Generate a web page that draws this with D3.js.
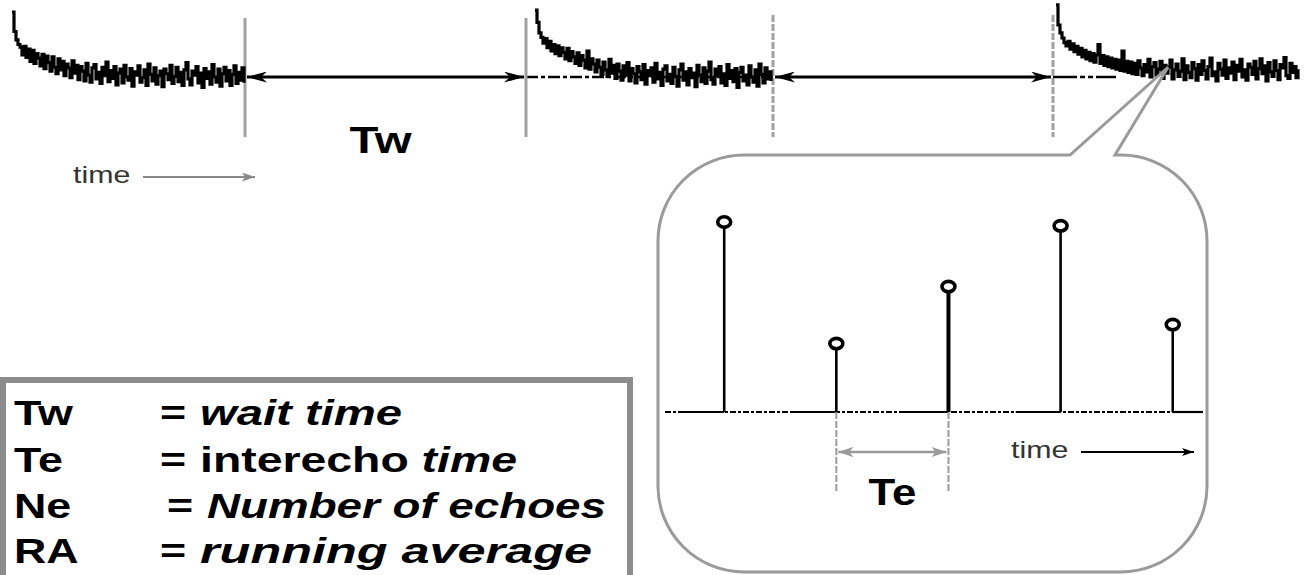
<!DOCTYPE html>
<html>
<head>
<meta charset="utf-8">
<script src="https://cdn.jsdelivr.net/npm/d3@7"></script>
<style>
  html, body { margin: 0; padding: 0; background: #fff; }
  svg { display: block; }
  text { font-family: "Liberation Sans", Arial, Helvetica, sans-serif; }
</style>
</head>
<body>
<svg id="chart" width="1310" height="575"></svg>
<script>
// ---- Echo trains: amplitude in % of first echo, one sample every 2 time units ----
const trainStarts = [2, 525, 1046];
const sampleStep = 2;

const train1 = [100, 70, 57, 50, 46, 34, 47, 30, 43, 24,
  41, 21, 36, 29, 17, 35, 13, 32, 22, 9,
  31, 15, 5, 28, 11, 24, 2, 20, 14, -1,
  25, 6, 18, -4, 16, 9, -6, 21, 3, -8,
  14, 19, -3, 7, -10, 15, 2, 23, -7, 10,
  -2, 16, -12, 6, 12, -9, 18, 0, -5, 13,
  -14, 8, 3, 17, -8, -1, 11, -13, 20, 4,
  -6, 14, -11, 2, 9, -15, 12, 5, -4, 18,
  -10, 1, 15, -7, 7, -13, 11, 22, -3, -12,
  9, 3, 16, -9, 6, -16, 13, -2, 8, -11,
  19, 0, -8, 12, -14, 5, 15, -6, 10, -13,
  4, 17, -10, 7, -5, 14, -9];

const train2 = [103, 84, 68, 61, 52, 59, 45, 55, 40, 50,
  36, 48, 33, 45, 38, 28, 44, 25, 39, 31,
  21, 37, 18, 33, 26, 14, 40, 12, 28, 20,
  8, 26, 15, 4, 23, 11, 1, 27, 6, 18,
  -2, 20, 9, -5, 17, 3, 22, -6, 13, 5,
  -9, 16, 8, -4, 19, -11, 10, 2, 14, -8,
  21, -3, 7, -13, 12, 17, -6, 4, -10, 15,
  1, -14, 11, 20, -5, 8, -12, 13, -1, 6,
  -15, 18, 3, -7, 14, -10, 9, 23, -4, -11,
  12, 2, 16, -9, 5, -13, 19, -2, 10, -7,
  13, -16, 7, 15, -6, 3, -12, 17, 0, -8,
  11, -14, 20, 4, -9, 14, -3, 8, -6];

const train3 = [111, 80, 68, 60, 53, 48, 55, 43, 51, 39,
  47, 35, 44, 31, 41, 28, 38, 25, 36, 23,
  34, 50, 21, 33, 18, 31, 16, 29, 14, 27,
  12, 26, 10, 40, 9, 24, 7, 23, 5, 21,
  4, 25, 14, 2, 19, 8, 27, 0, 16, 22,
  3, 12, 24, -2, 18, 6, 15, 26, -3, 11,
  20, 1, 9, 28, -4, 17, 7, -1, 22, 13,
  -5, 19, 4, 25, 10, -3, 16, 29, 2, 8,
  -6, 21, 12, 3, 26, -2, 14, 6, 23, -4,
  18, 9, 27, 0, 11, -5, 20, 15, 4, 24,
  -3, 13, 28, 5, 17, -6, 22, 8, 1, 25,
  10, -4, 19, 14, 30, 2, -2, 21, 7, 16,
  -1, 12];

const trains = [train1, train2, train3];

// gate markers (end / start of each train) and the wait-time spans between trains
const gateTimes = [235, 516, 763, 1043];
const waitSpans = [[235, 516], [763, 1043]];
const waitLabel = "Tw";

// sample of train 3 that the magnified view points at
const calloutSample = 56;
const calloutLevel = 15;

// ---- Magnified view: individual echoes ----
const echoNumbers = [1, 2, 3, 4, 5];
const echoAmplitudes = [1.00, 0.36, 0.66, 0.98, 0.46];
const interechoPair = [2, 3];
const interechoLabel = "Te";

// ---- Legend ----
const legendTerms = ["Tw", "Te", "Ne", "RA"];
const legendDefs = [
  [{ text: "wait time", italic: true }],
  [{ text: "interecho ", italic: false }, { text: "time", italic: true }],
  [{ text: "Number of echoes", italic: true }],
  [{ text: "running average", italic: true }]
];

// ---------------------------------------------------------------
const svg = d3.select("#chart");
const SX = 1.28;   // horizontal stretch of the lettering

svg.append("rect").attr("width", 1310).attr("height", 575).attr("fill", "#fff");

const xTop = d3.scaleLinear().domain([0, 1300]).range([10, 1310]);
const yTop = d3.scaleLinear().domain([0, 100]).range([77, 12]);

const xEcho = d3.scaleLinear().domain([0.472, 5.27]).range([665, 1203]);
const yEcho = d3.scaleLinear().domain([0, 1]).range([412, 222]);

// arrowhead markers
const defs = svg.append("defs");
function marker(id, len, half, notch, color) {
  defs.append("marker")
    .attr("id", id)
    .attr("viewBox", `${-len} ${-half} ${len} ${half * 2}`)
    .attr("refX", 0).attr("refY", 0)
    .attr("markerUnits", "userSpaceOnUse")
    .attr("markerWidth", len).attr("markerHeight", half * 2)
    .attr("orient", "auto-start-reverse")
    .append("path")
    .attr("d", `M0,0 L${-len},${-half} L${-notch},0 L${-len},${half} Z`)
    .attr("fill", color);
}
marker("barbBlack", 20, 5.5, 14, "#000");
marker("headGray", 13, 4.5, 10, "#8a8a8a");
marker("barbGray", 15, 5, 11, "#9a9a9a");
marker("headBlack", 12, 4, 9, "#000");

// ---- upper strip: echo trains ----
const strip = svg.append("g");

// zero line under the 2nd and 3rd trains
strip.append("line")
  .attr("x1", xTop(gateTimes[1])).attr("x2", xTop(gateTimes[2]))
  .attr("y1", yTop(0)).attr("y2", yTop(0))
  .attr("stroke", "#000").attr("stroke-width", 2.5)
  .attr("stroke-dasharray", "12,3,4,3");
strip.append("line")
  .attr("x1", xTop(gateTimes[3])).attr("x2", xTop(trainStarts[2] + 60))
  .attr("y1", yTop(0)).attr("y2", yTop(0))
  .attr("stroke", "#000").attr("stroke-width", 2.5)
  .attr("stroke-dasharray", "24,3,5,3,5,3");

// gate lines
strip.selectAll("line.gate")
  .data(gateTimes)
  .join("line")
  .attr("class", "gate")
  .attr("x1", d => xTop(d)).attr("x2", d => xTop(d))
  .attr("y1", (d, i) => i < 2 ? 18 : 15).attr("y2", 137)
  .attr("stroke", "#a0a0a0").attr("stroke-width", 3)
  .attr("stroke-dasharray", (d, i) => i < 2 ? null : "7,2");

// wait-time arrows
strip.selectAll("line.wait")
  .data(waitSpans)
  .join("line")
  .attr("class", "wait")
  .attr("x1", d => xTop(d[0]) + 2).attr("x2", d => xTop(d[1]) - 2)
  .attr("y1", yTop(0)).attr("y2", yTop(0))
  .attr("stroke", "#000").attr("stroke-width", 3.2)
  .attr("marker-start", "url(#barbBlack)")
  .attr("marker-end", "url(#barbBlack)");

// noisy decays, drawn as sample-and-hold steps
const line = d3.line().curve(d3.curveStepAfter);
trains.forEach((vals, k) => {
  const pts = vals.map((v, i) => [xTop(trainStarts[k] + i * sampleStep), yTop(v)]);
  strip.append("path")
    .attr("d", line(pts))
    .attr("fill", "none")
    .attr("stroke", "#000")
    .attr("stroke-width", 3.2)
    .attr("stroke-linejoin", "miter");
});

// Tw label
const twMid = (xTop(waitSpans[0][0]) + xTop(waitSpans[0][1])) / 2 - 5;
strip.append("text")
  .attr("transform", `translate(${twMid},153) scale(${SX},1)`)
  .attr("text-anchor", "middle")
  .attr("font-size", 37).attr("font-weight", "bold")
  .attr("fill", "#000")
  .text(waitLabel);

// time arrow
strip.append("text")
  .attr("transform", `translate(73,183) scale(1.32,1)`)
  .attr("font-size", 23).attr("fill", "#333")
  .text("time");
strip.append("line")
  .attr("x1", 143).attr("x2", 255).attr("y1", 177).attr("y2", 177)
  .attr("stroke", "#8a8a8a").attr("stroke-width", 2)
  .attr("marker-end", "url(#headGray)");

// ---- callout bubble ----
const tip = [xTop(trainStarts[2] + calloutSample * sampleStep), yTop(calloutLevel)];
const bx0 = 658, bx1 = 1207, by0 = 155, by1 = 572, r = 86;
const notchA = 1070, notchB = 1115;
const bubble = d3.path();
bubble.moveTo(bx0 + r, by0);
bubble.lineTo(notchA, by0);
bubble.lineTo(tip[0], tip[1]);
bubble.lineTo(notchB, by0);
bubble.lineTo(bx1 - r, by0);
bubble.arcTo(bx1, by0, bx1, by0 + r, r);
bubble.lineTo(bx1, by1 - r);
bubble.arcTo(bx1, by1, bx1 - r, by1, r);
bubble.lineTo(bx0 + r, by1);
bubble.arcTo(bx0, by1, bx0, by1 - r, r);
bubble.lineTo(bx0, by0 + r);
bubble.arcTo(bx0, by0, bx0 + r, by0, r);
bubble.closePath();
svg.append("path")
  .attr("d", bubble.toString())
  .attr("fill", "#fff")
  .attr("stroke", "#9a9a9a").attr("stroke-width", 3)
  .attr("stroke-linejoin", "miter");

// ---- magnified echoes ----
const inset = svg.append("g");
const [eMin, eMax] = xEcho.domain();

// baseline: dashed, with solid runs leading into each echo
inset.append("line")
  .attr("x1", xEcho(eMin)).attr("x2", xEcho(eMax))
  .attr("y1", yEcho(0)).attr("y2", yEcho(0))
  .attr("stroke", "#000").attr("stroke-width", 2.2)
  .attr("stroke-dasharray", "6,2,3,2");
const solidRuns = echoNumbers.map(e => e < 5 ? [e - 0.4, e] : [e, eMax]);
inset.selectAll("line.run")
  .data(solidRuns)
  .join("line")
  .attr("class", "run")
  .attr("x1", d => xEcho(d[0])).attr("x2", d => xEcho(d[1]))
  .attr("y1", yEcho(0)).attr("y2", yEcho(0))
  .attr("stroke", "#000").attr("stroke-width", 2.2);

// Te markers
inset.selectAll("line.te")
  .data(interechoPair)
  .join("line")
  .attr("class", "te")
  .attr("x1", d => xEcho(d)).attr("x2", d => xEcho(d))
  .attr("y1", yEcho(0)).attr("y2", 491)
  .attr("stroke", "#9a9a9a").attr("stroke-width", 2)
  .attr("stroke-dasharray", "7,2");
inset.append("line")
  .attr("x1", xEcho(interechoPair[0]) + 2).attr("x2", xEcho(interechoPair[1]) - 2)
  .attr("y1", 452).attr("y2", 452)
  .attr("stroke", "#9a9a9a").attr("stroke-width", 2.5)
  .attr("marker-start", "url(#barbGray)")
  .attr("marker-end", "url(#barbGray)");
inset.append("text")
  .attr("transform", `translate(${(xEcho(interechoPair[0]) + xEcho(interechoPair[1])) / 2},505) scale(${SX * 0.95},1)`)
  .attr("text-anchor", "middle")
  .attr("font-size", 36).attr("font-weight", "bold")
  .text(interechoLabel);

// stems
inset.selectAll("line.stem")
  .data(echoNumbers)
  .join("line")
  .attr("class", "stem")
  .attr("x1", d => xEcho(d)).attr("x2", d => xEcho(d))
  .attr("y1", yEcho(0)).attr("y2", (d, i) => yEcho(echoAmplitudes[i]))
  .attr("stroke", "#000")
  .attr("stroke-width", (d, i) => i === 2 ? 4 : 2.6);
inset.selectAll("ellipse.head")
  .data(echoNumbers)
  .join("ellipse")
  .attr("class", "head")
  .attr("cx", d => xEcho(d))
  .attr("cy", (d, i) => yEcho(echoAmplitudes[i]))
  .attr("rx", 6.5).attr("ry", 5.2)
  .attr("fill", "#fff").attr("stroke", "#000").attr("stroke-width", 3.6);

// time arrow in the inset
inset.append("text")
  .attr("transform", `translate(1011,458) scale(1.32,1)`)
  .attr("font-size", 23).attr("fill", "#333")
  .text("time");
inset.append("line")
  .attr("x1", 1081).attr("x2", 1194).attr("y1", 452).attr("y2", 452)
  .attr("stroke", "#000").attr("stroke-width", 2)
  .attr("marker-end", "url(#headBlack)");

// ---- legend ----
const legend = svg.append("g");
legend.append("rect")
  .attr("x", 3).attr("y", 380).attr("width", 627).attr("height", 260)
  .attr("fill", "#fff").attr("stroke", "#8c8c8c").attr("stroke-width", 6);

const rowBase = [425, 472, 518, 563];
const rowEnd = [402, 517, 606, 592];   // right edge of each definition line
legendTerms.forEach((term, i) => {
  legend.append("text")
    .attr("transform", `translate(14,${rowBase[i]}) scale(${SX},1)`)
    .attr("font-size", 35).attr("font-weight", "bold")
    .text(term);
  const eqX = i === 2 ? 167 : 160;
  legend.append("text")
    .attr("transform", `translate(${eqX},${rowBase[i]}) scale(${SX},1)`)
    .attr("font-size", 35).attr("font-weight", "bold")
    .text("=");
  const x0 = eqX + 40;
  const t = legend.append("text")
    .attr("x", x0).attr("y", rowBase[i])
    .attr("font-size", 35).attr("font-weight", "bold")
    .attr("textLength", rowEnd[i] - x0)
    .attr("lengthAdjust", "spacingAndGlyphs");
  legendDefs[i].forEach(seg => {
    t.append("tspan")
      .attr("font-style", seg.italic ? "italic" : "normal")
      .text(seg.text);
  });
});
</script>
</body>
</html>
